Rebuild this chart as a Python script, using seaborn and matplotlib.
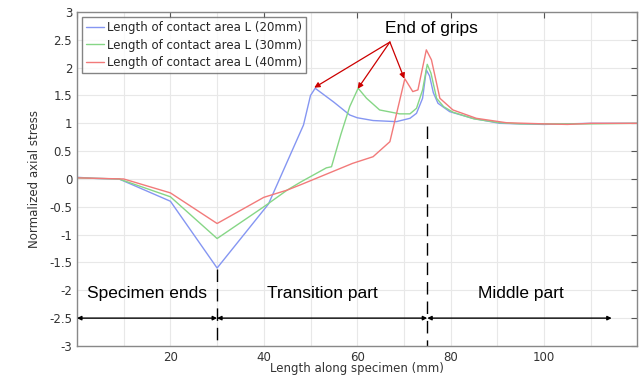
import numpy as np
import pandas as pd
import seaborn as sns
import matplotlib
matplotlib.use("Agg")
import matplotlib.pyplot as plt
from matplotlib.ticker import MultipleLocator

# ---- data ----
labels = ["Length of contact area L (20mm)",
          "Length of contact area L (30mm)",
          "Length of contact area L (40mm)"]

x_20 = [0, 4, 9, 20, 30, 41, 48.5, 50, 51, 55, 58.4, 60, 63.4, 68.4, 71.3, 72.7, 74, 74.8,
        75.5, 76.3, 77.3, 79.8, 84.7, 90.5, 95, 100, 105, 110, 120]
y_20 = [0.03, 0.01, 0, -0.4, -1.6, -0.45, 0.97, 1.5, 1.63, 1.38, 1.15, 1.1, 1.05, 1.03, 1.09,
        1.18, 1.45, 1.96, 1.85, 1.55, 1.36, 1.21, 1.09, 1.0, 0.99, 0.98, 0.99, 1.0, 1.0]

x_30 = [0, 9, 20, 30, 40, 45, 48, 53.4, 54.5, 56.5, 58.4, 60.2, 62, 64.8, 69.1, 71.3, 72.7,
        74, 75, 75.8, 77, 78.5, 80.5, 85, 90.5, 95, 100, 110, 120]
y_30 = [0.02, 0, -0.32, -1.07, -0.5, -0.2, -0.05, 0.2, 0.22, 0.8, 1.3, 1.63, 1.45, 1.24,
        1.17, 1.17, 1.27, 1.6, 2.06, 1.9, 1.45, 1.3, 1.2, 1.08, 1.01, 0.99, 0.99, 0.99, 1.0]

x_40 = [0, 10, 20, 30, 40, 45, 48, 59, 63.4, 67, 70.2, 71.9, 73, 74, 74.8, 75.9, 77.7, 80.5,
        85.5, 92, 100, 105, 110, 120]
y_40 = [0.02, 0, -0.25, -0.8, -0.33, -0.2, -0.1, 0.28, 0.4, 0.67, 1.8, 1.57, 1.6, 2.0, 2.32,
        2.14, 1.45, 1.24, 1.09, 1.01, 0.99, 0.98, 1.0, 1.0]

colors = ["#8596f2", "#86d686", "#f27a7a"]

grip_ends = [(50.8, 1.64), (60.1, 1.62), (70.1, 1.80)]
regions = [("Specimen ends", 0, 30), ("Transition part", 30, 75), ("Middle part", 75, 114.5)]
boundaries = [(30, -1.62), (75, 0.95)]

df = pd.concat([
    pd.DataFrame({"x": x_20, "y": y_20, "series": labels[0]}),
    pd.DataFrame({"x": x_30, "y": y_30, "series": labels[1]}),
    pd.DataFrame({"x": x_40, "y": y_40, "series": labels[2]}),
])

sns.set_style("white")
plt.rcParams["font.family"] = ["DejaVu Sans"]
plt.rcParams["axes.unicode_minus"] = False

fig = plt.figure(figsize=(6.39, 3.81), dpi=100)
ax = fig.add_axes([0.1205, 0.092, 0.877, 0.8765])

sns.lineplot(data=df, x="x", y="y", hue="series", palette=colors, sort=False,
             estimator=None, linewidth=1.0, ax=ax)

ax.set_xlim(0, 120)
ax.set_ylim(-3, 3)
ax.xaxis.set_major_locator(MultipleLocator(20))
ax.xaxis.set_minor_locator(MultipleLocator(10))
ax.yaxis.set_major_locator(MultipleLocator(0.5))
ax.grid(True, which="both", color="#e8e8e8", linewidth=0.8)
ax.set_axisbelow(True)
ax.tick_params(which="major", direction="in", top=True, right=True, length=4,
               color="#555555", labelsize=8.5, labelcolor="#333333")
ax.tick_params(which="minor", length=0)
ax.xaxis.set_major_formatter(matplotlib.ticker.FuncFormatter(
    lambda v, p: "" if v in (0, 120) else f"{v:g}"))
ax.yaxis.set_major_formatter(matplotlib.ticker.FuncFormatter(lambda v, p: f"{v:g}"))
for s in ax.spines.values():
    s.set_color("#888888")
    s.set_linewidth(1.0)

ax.set_xlabel("Length along specimen (mm)", fontsize=8.5, color="#333333", labelpad=-1)
ax.set_ylabel("Normalized axial stress", fontsize=8.5, color="#333333", labelpad=6)

leg = ax.legend(loc="upper left", fontsize=8.5, handlelength=1.5, handletextpad=0.3,
                borderaxespad=0.4, frameon=True, fancybox=False, labelspacing=0.4,
                borderpad=0.35)
leg.get_frame().set_edgecolor("#666666")
leg.get_frame().set_linewidth(1.0)
for line in leg.get_lines():
    line.set_linewidth(1.0)

# annotations
ax.text(76, 2.71, "End of grips", fontsize=12.5, family="Liberation Sans",
        ha="center", va="center", color="black")
for gx, gy in grip_ends:
    ax.annotate("", xy=(gx, gy), xytext=(67, 2.46),
                arrowprops=dict(arrowstyle="-|>", color="#cc0000", lw=0.9,
                                mutation_scale=8, shrinkA=0, shrinkB=0))

for bx, by in boundaries:
    ax.plot([bx, bx], [by, -3], color="black", lw=1.0, dashes=(9, 5))

for name, a, b in regions:
    ax.annotate("", xy=(b, -2.5), xytext=(a, -2.5),
                arrowprops=dict(arrowstyle="<|-|>", color="black", lw=1.0,
                                mutation_scale=6, shrinkA=0, shrinkB=0))
    cx = (a + b) / 2 if name != "Middle part" else 95
    ax.text(cx, -2.05, name, fontsize=12.5, family="Liberation Sans",
            ha="center", va="center", color="black")

fig.savefig("out.png", dpi=100)
